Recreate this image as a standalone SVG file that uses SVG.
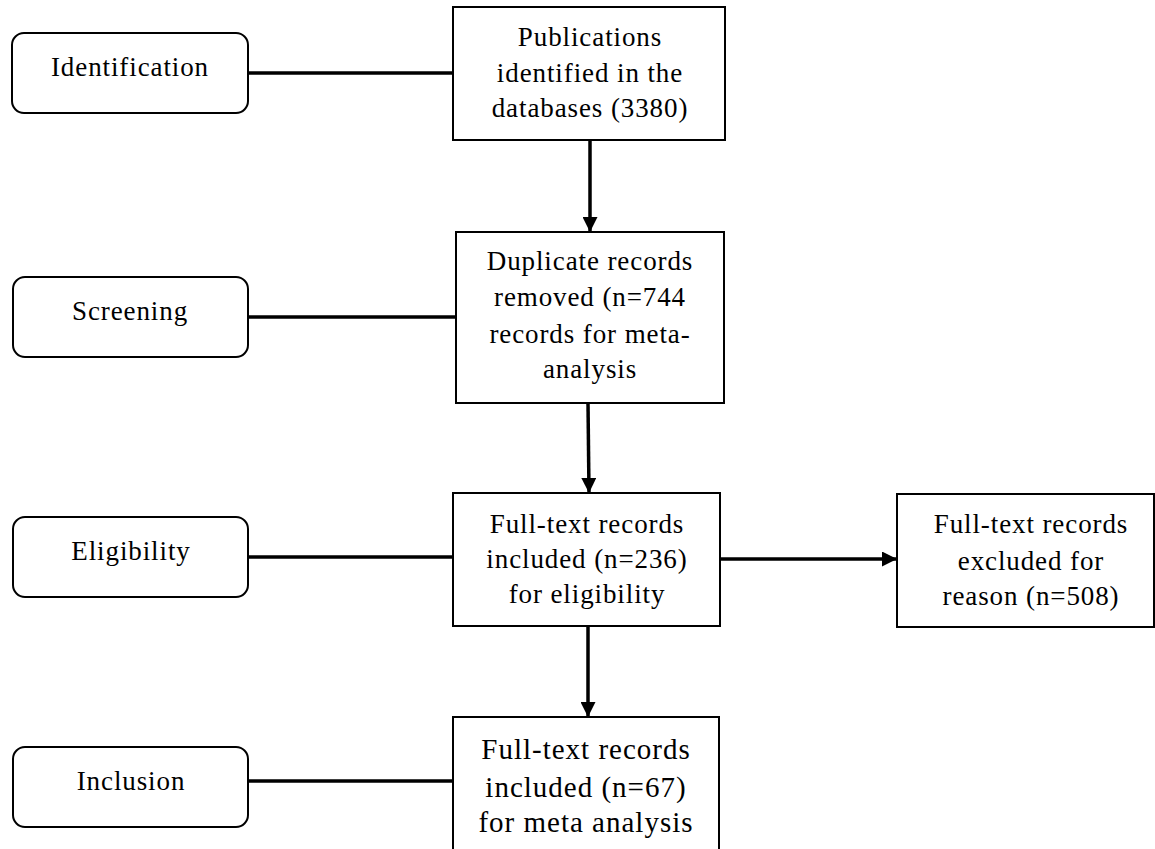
<svg xmlns="http://www.w3.org/2000/svg" width="1155" height="849" viewBox="0 0 1155 849">
<style>
.stage{fill:#fff;stroke:#000;stroke-width:2}
.box{fill:#fff;stroke:#000;stroke-width:2}
.t{font-family:"Liberation Serif","Times New Roman",serif;font-size:27px;letter-spacing:0.9px;text-anchor:middle;fill:#000}
.tb{font-size:29px;letter-spacing:1px}
.link{stroke:#000;stroke-width:3.5;fill:none}
</style>
<defs>
<marker id="ah" viewBox="0 0 10 10" refX="10" refY="5" markerWidth="16" markerHeight="15" markerUnits="userSpaceOnUse" orient="auto">
<path d="M0,0 L10,5 L0,10 z" fill="#000"/>
</marker>
</defs>
<rect width="1155" height="849" fill="#fff"/>
<g id="connectors">
<line class="link" x1="248" y1="73" x2="453" y2="73"/>
<line class="link" x1="248" y1="317" x2="456" y2="317"/>
<line class="link" x1="248" y1="557" x2="453" y2="557"/>
<line class="link" x1="248" y1="781" x2="453" y2="781"/>
<line class="link" x1="590" y1="140" x2="590" y2="232" marker-end="url(#ah)"/>
<line class="link" x1="588" y1="403" x2="589" y2="493" marker-end="url(#ah)"/>
<line class="link" x1="588" y1="626" x2="588" y2="717" marker-end="url(#ah)"/>
<line class="link" x1="720" y1="559" x2="897" y2="559" marker-end="url(#ah)"/>
</g>
<g id="identification">
<rect class="stage" x="12" y="33" width="236" height="80" rx="12"/>
<text class="t" x="130" y="76">Identification</text>
</g>
<g id="screening">
<rect class="stage" x="13" y="277" width="235" height="80" rx="12"/>
<text class="t" x="130" y="320">Screening</text>
</g>
<g id="eligibility">
<rect class="stage" x="13" y="517" width="235" height="80" rx="12"/>
<text class="t" x="131" y="560">Eligibility</text>
</g>
<g id="inclusion">
<rect class="stage" x="13" y="747" width="235" height="80" rx="12"/>
<text class="t" x="131" y="790">Inclusion</text>
</g>
<g id="publications">
<rect class="box" x="453" y="7" width="272" height="133"/>
<text class="t" x="590" y="46">Publications</text>
<text class="t" x="590" y="82">identified in the</text>
<text class="t" x="590" y="117">databases (3380)</text>
</g>
<g id="duplicates">
<rect class="box" x="456" y="232" width="268" height="171"/>
<text class="t" x="590" y="270">Duplicate records</text>
<text class="t" x="590" y="306">removed (n=744</text>
<text class="t" x="590" y="343">records for meta-</text>
<text class="t" x="590" y="378">analysis</text>
</g>
<g id="fulltext-eligibility">
<rect class="box" x="453" y="493" width="267" height="133"/>
<text class="t" x="587" y="533">Full-text records</text>
<text class="t" x="587" y="568">included (n=236)</text>
<text class="t" x="587" y="603">for eligibility</text>
</g>
<g id="fulltext-excluded">
<rect class="box" x="897" y="494" width="257" height="133"/>
<text class="t" x="1031" y="533">Full-text records</text>
<text class="t" x="1031" y="570">excluded for</text>
<text class="t" x="1031" y="605">reason (n=508)</text>
</g>
<g id="fulltext-included">
<rect class="box" x="453" y="717" width="266" height="140"/>
<text class="t tb" x="586" y="759">Full-text records</text>
<text class="t tb" x="586" y="797">included (n=67)</text>
<text class="t tb" x="586" y="832">for meta analysis</text>
</g>
</svg>
